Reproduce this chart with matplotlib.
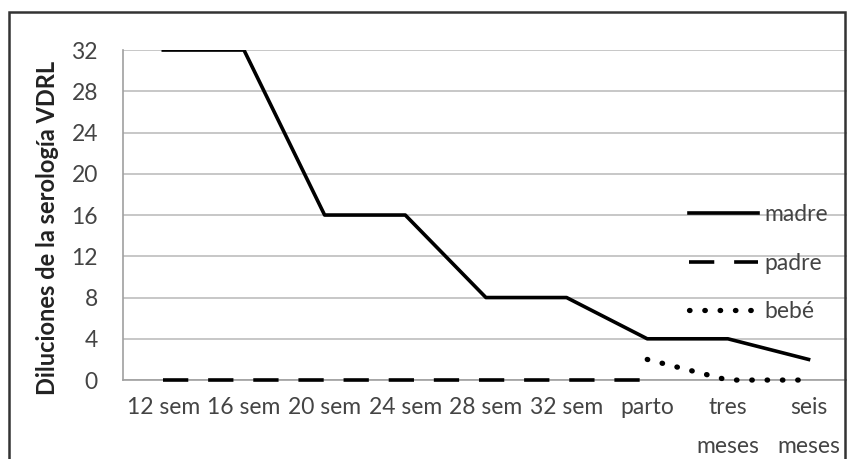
import numpy as np
import matplotlib.pyplot as plt
from matplotlib.patches import Rectangle

plt.rcParams['font.family'] = ['Lato', 'DejaVu Sans']

categorias = ['12 sem', '16 sem', '20 sem', '24 sem', '28 sem', '32 sem',
              'parto', 'tres\nmeses', 'seis\nmeses']
madre = [32, 32, 16, 16, 8, 8, 4, 4, 2]
padre = [0, 0, 0, 0, 0, 0, 0, np.nan, np.nan]
bebe = [np.nan, np.nan, np.nan, np.nan, np.nan, np.nan, 2, 0, 0]
yticks = [0, 4, 8, 12, 16, 20, 24, 28, 32]

fig = plt.figure(figsize=(8.47, 4.59), dpi=100)
ax = fig.add_axes([0.1452, 0.172, 0.857, 0.719])

x = np.arange(len(categorias))
ax.plot(x, madre, color='black', lw=2.6, label='madre', zorder=3)
ax.plot(x, padre, color='black', lw=2.6, label='padre', linestyle=(0, (7, 5.5)),
        zorder=3, clip_on=False)
ax.plot(x, bebe, color='black', lw=3.8, label='bebé', linestyle=(0, (0.1, 2.8)),
        dash_capstyle='round', zorder=3, clip_on=False)

ax.set_xlim(-0.5, len(categorias) - 0.5)
ax.set_ylim(0, 32)
ax.set_yticks(yticks)
ax.set_xticks(x)
ax.set_xticklabels(categorias, linespacing=2.05, va='top')
ax.tick_params(axis='both', length=0, labelsize=16.5, colors='#444444')
ax.tick_params(axis='x', pad=12)
ax.tick_params(axis='y', pad=18)
ax.grid(axis='y', color='#bdbdbd', lw=1.2)
ax.set_axisbelow(True)
for s in ['top', 'right']:
    ax.spines[s].set_visible(False)
for s in ['left', 'bottom']:
    ax.spines[s].set_color('#a0a0a0')
    ax.spines[s].set_linewidth(1.2)

ax.set_ylabel('Diluciones de la serología VDRL', fontsize=17, fontweight='bold',
              color='#222222')
ax.yaxis.set_label_coords(-0.088, 0.46)

ax.legend(loc='upper left', bbox_to_anchor=(0.752, 0.595), frameon=False,
          fontsize=16.5, handlelength=3.0, handletextpad=0.25, labelspacing=1.2,
          labelcolor='#444444')

fig.patches.append(Rectangle((9 / 847, -0.1), (845 - 9) / 847, 1.1 - 12 / 459,
                             transform=fig.transFigure, fill=False,
                             edgecolor='#333333', lw=1.8))

fig.savefig('out.png', dpi=100)
